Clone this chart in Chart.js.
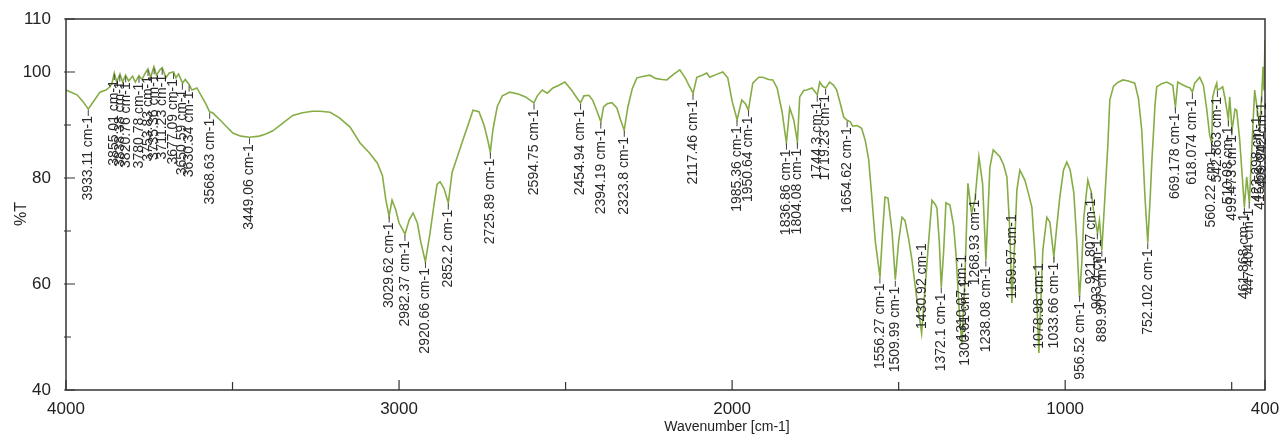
<!DOCTYPE html>
<html>
<head>
<meta charset="utf-8">
<script src="https://cdn.jsdelivr.net/npm/chart.js"></script>
<style>
  html, body { margin: 0; padding: 0; background: #fff; }
  #wrap { width: 1282px; height: 436px; }
</style>
</head>
<body>
<div id="wrap"><canvas id="irChart" width="1282" height="436"></canvas></div>
<script>
// spectrum (wavenumber in cm-1, %T)
const wavenumbers = [
  4000, 3985, 3967, 3950, 3933, 3920, 3898, 3880, 3868, 3862,
  3855, 3848, 3838, 3830, 3821, 3812, 3800, 3792, 3781, 3772,
  3762, 3754, 3746, 3736, 3728, 3718, 3711, 3700, 3690, 3677,
  3670, 3662, 3650, 3642, 3630, 3622, 3607, 3592, 3580, 3569,
  3560, 3538, 3520, 3499, 3475, 3449, 3420, 3400, 3379, 3350,
  3319, 3290, 3260, 3237, 3207, 3180, 3147, 3117, 3090, 3065,
  3050, 3040, 3030, 3021, 3010, 3000, 2982, 2970, 2958, 2945,
  2935, 2921, 2907, 2895, 2886, 2877, 2865, 2852, 2841, 2825,
  2808, 2790, 2778, 2760, 2745, 2735, 2726, 2718, 2705, 2690,
  2667, 2640, 2620, 2605, 2595, 2585, 2570, 2555, 2538, 2520,
  2502, 2480, 2465, 2455, 2445, 2430, 2418, 2405, 2394, 2386,
  2375, 2361, 2346, 2335, 2324, 2313, 2300, 2286, 2265, 2247,
  2230, 2210, 2196, 2175, 2157, 2140, 2130, 2117, 2106, 2090,
  2076, 2067, 2045, 2028, 2013, 2000, 1985, 1971, 1960, 1951,
  1938, 1920, 1908, 1890, 1878, 1865, 1850, 1837, 1827, 1815,
  1804, 1797, 1785, 1776, 1760, 1744, 1737, 1728, 1719, 1707,
  1695, 1686, 1675, 1665, 1655, 1645, 1638, 1625, 1611, 1600,
  1590, 1580, 1570, 1556, 1548, 1541, 1532, 1520, 1510, 1500,
  1490, 1481, 1470, 1460, 1445, 1431, 1421, 1410, 1400, 1390,
  1385, 1378, 1372, 1365, 1358, 1346, 1335, 1328, 1318, 1310,
  1301, 1292, 1281, 1271, 1259, 1248, 1238, 1226, 1216, 1196,
  1185, 1175, 1166, 1160, 1150, 1145, 1136, 1121, 1110, 1100,
  1090, 1079, 1067, 1055, 1046, 1034, 1025, 1016, 1005, 995,
  985, 974, 965, 957, 950, 944, 932, 925, 922, 915,
  911, 903, 897, 890, 882, 872, 866, 855, 845, 827,
  810, 791, 780, 770, 760, 752, 745, 740, 730, 725,
  710, 695, 677, 669, 662, 648, 635, 625, 618, 611,
  596, 585, 575, 566, 560, 557, 550, 545, 543, 536,
  527, 520, 510, 506, 499, 490, 485, 476, 468, 462,
  455, 447, 437, 431, 423, 416, 410, 406, 403, 400
];
const transmittance = [
  96.6, 96.2, 95.7, 94.5, 93.0, 94.2, 96.2, 96.6, 97.2, 97.9,
  99.8, 98.1, 99.6, 98.1, 99.4, 98.3, 99.2, 98.1, 99.3, 98.6,
  99.8, 100.6, 99.0, 101.0, 99.4, 100.4, 100.8, 98.9, 99.8, 100.0,
  98.9, 99.6, 97.9, 98.6, 97.6, 96.6, 97.0, 95.3, 94.0, 92.5,
  92.3, 91.0, 89.8, 88.5, 87.9, 87.7, 87.9, 88.3, 88.9, 90.3,
  91.8, 92.3, 92.6, 92.6, 92.4, 91.4, 89.6, 86.6, 84.8, 82.8,
  80.5, 76.0, 72.8, 75.8, 74.0, 71.5, 69.4, 72.0, 73.4, 71.5,
  68.0, 64.2, 69.6, 75.0, 78.8, 79.3, 78.0, 75.3, 81.0, 84.0,
  87.2, 90.5, 92.8, 92.5, 90.0, 87.5, 84.9, 89.2, 93.5, 95.5,
  96.2, 95.8, 95.3, 94.6, 94.2, 95.5, 96.6, 96.0, 97.0, 97.5,
  98.1, 96.4, 95.0, 94.2, 95.5, 95.6, 94.6, 92.5, 90.6, 93.4,
  94.0, 94.2, 93.2, 91.0, 89.0, 93.4, 96.8, 98.9, 99.2, 99.4,
  98.8, 98.6, 98.5, 99.6, 100.4, 98.8, 97.5, 96.0, 99.0, 99.4,
  99.8, 99.0, 99.6, 100.0, 98.9, 94.5, 91.0, 94.7, 94.0, 92.8,
  97.9, 99.0, 99.0, 98.6, 98.5, 97.0, 92.5, 86.6, 93.2, 91.0,
  86.8, 95.3, 96.5, 96.6, 97.0, 95.7, 98.1, 97.3, 97.0, 98.1,
  97.5, 96.6, 94.0, 91.5, 90.9, 90.6, 89.8, 89.9, 89.4, 87.0,
  83.5, 76.0, 68.0, 61.3, 70.0, 76.4, 76.2, 70.0, 60.8, 68.0,
  72.6, 72.0, 68.5, 64.5, 57.0, 50.7, 58.9, 68.0, 75.8, 75.0,
  74.3, 68.0, 59.4, 66.0, 75.3, 74.9, 71.0, 65.8, 55.0, 48.5,
  61.3, 79.0, 73.4, 75.8, 84.0, 79.0, 64.5, 82.0, 85.3, 84.0,
  82.5, 80.2, 70.0, 56.4, 70.0, 77.7, 81.5, 79.6, 77.0, 74.5,
  65.0, 47.0, 66.4, 72.6, 71.7, 65.1, 71.0, 76.4, 81.5, 83.0,
  81.5, 77.2, 68.0, 57.5, 64.0, 72.6, 79.6, 78.0, 77.5, 74.0,
  72.6, 69.6, 72.0, 66.4, 75.0, 86.0, 94.7, 97.3, 97.9, 98.5,
  98.3, 97.9, 95.0, 89.0, 76.0, 67.8, 76.0, 82.8, 94.0, 97.2,
  97.8, 98.1, 97.5, 93.4, 98.1, 97.6, 97.2, 97.0, 96.2, 97.9,
  99.0, 97.5, 93.0, 88.0, 86.6, 95.3, 97.0, 97.9, 96.6, 96.8,
  97.2, 95.0, 91.0, 95.3, 89.0, 93.0, 92.8, 87.2, 80.0, 74.5,
  80.2, 75.3, 89.0, 96.6, 92.8, 89.6, 95.5, 101.0, 96.5, 106.0
];

// peak annotations printed on the spectrum
const peakLabels = [
  3933.11, 3855.01, 3838.38, 3820.76, 3780.78, 3753.83, 3735.36, 3711.23,
  3677.09, 3650.59, 3630.34, 3568.63, 3449.06, 3029.62, 2982.37, 2920.66,
  2852.2, 2725.89, 2594.75, 2454.94, 2394.19, 2323.8, 2117.46, 1985.36,
  1950.64, 1836.86, 1804.08, 1744.3, 1719.23, 1654.62, 1556.27, 1509.99,
  1430.92, 1372.1, 1310.07, 1300.61, 1268.93, 1238.08, 1159.97, 1078.98,
  1033.66, 956.52, 921.807, 903.4, 889.907, 752.102, 669.178, 618.074,
  560.22, 542.863, 510.08, 499.473, 461.868, 447.404, 423.298, 415.58, 409.942
];

const xTickValues = [4000, 3500, 3000, 2500, 2000, 1500, 1000, 500, 400];
const xTickLabels = ['4000', '', '3000', '', '2000', '', '1000', '', '400'];
const yTickValues = [40, 50, 60, 70, 80, 90, 100, 110];
const yTickLabels = ['40', '', '60', '', '80', '', '100', '110'];

const FONT = "'Liberation Sans', Arial, sans-serif";

function valueAt(wn) {
  for (let i = 0; i < wavenumbers.length - 1; i++) {
    const a = wavenumbers[i], b = wavenumbers[i + 1];
    if (wn <= a && wn >= b) {
      const t = (a - wn) / (a - b);
      return transmittance[i] + t * (transmittance[i + 1] - transmittance[i]);
    }
  }
  return transmittance[transmittance.length - 1];
}

// frame, inward ticks, axis titles and the peak labels
const decor = {
  id: 'decor',
  afterDatasetsDraw(chart) {
    const { ctx, chartArea: a, scales: { x, y } } = chart;
    ctx.save();
    ctx.strokeStyle = '#333';
    ctx.lineWidth = 1.5;
    ctx.strokeRect(a.left, a.top, a.right - a.left, a.bottom - a.top);

    ctx.lineWidth = 1.2;
    ctx.beginPath();
    xTickValues.forEach((v, i) => {
      const px = x.getPixelForValue(v);
      const len = xTickLabels[i] ? 10 : 8;
      ctx.moveTo(px, a.bottom);
      ctx.lineTo(px, a.bottom - len);
    });
    yTickValues.forEach((v, i) => {
      const py = y.getPixelForValue(v);
      const len = yTickLabels[i] ? 9 : 5;
      ctx.moveTo(a.left - 2, py);
      ctx.lineTo(a.left + len, py);
    });
    ctx.stroke();

    // peak labels, rotated, hanging below the dip (or above when no room)
    ctx.font = '14px ' + FONT;
    ctx.fillStyle = '#2a2a2a';
    ctx.strokeStyle = '#444';
    ctx.lineWidth = 1;
    ctx.textBaseline = 'middle';
    peakLabels.forEach(wn => {
      const px = x.getPixelForValue(wn);
      const py = y.getPixelForValue(valueAt(wn));
      const txt = wn + ' cm-1';
      const w = ctx.measureText(txt).width;
      ctx.save();
      ctx.translate(px, py);
      ctx.rotate(-Math.PI / 2);
      ctx.beginPath();
      if (py + 7 + w < a.bottom - 4) {
        ctx.moveTo(-1, 0);
        ctx.lineTo(-7, 0);
        ctx.stroke();
        ctx.textAlign = 'right';
        ctx.fillText(txt, -7, 0);
      } else {
        ctx.textAlign = 'left';
        ctx.fillText(txt, 4, 0);
      }
      ctx.restore();
    });

    ctx.fillStyle = '#222';
    ctx.font = '16px ' + FONT;
    ctx.save();
    ctx.translate(22, 214);
    ctx.rotate(-Math.PI / 2);
    ctx.textAlign = 'center';
    ctx.fillText('%T', 0, 0);
    ctx.restore();
    ctx.font = '14px ' + FONT;
    ctx.textAlign = 'center';
    ctx.fillText('Wavenumber [cm-1]', 727, 427);
    ctx.restore();
  }
};

const ctx = document.getElementById('irChart').getContext('2d');
new Chart(ctx, {
  type: 'line',
  data: {
    datasets: [{
      label: '%T',
      data: wavenumbers.map((w, i) => ({ x: w, y: transmittance[i] })),
      borderColor: '#86ad45',
      borderWidth: 1.6,
      pointRadius: 0,
      tension: 0,
      fill: false
    }]
  },
  options: {
    responsive: false,
    animation: false,
    devicePixelRatio: 1,
    layout: { padding: { top: 19, right: 17, left: 0, bottom: 0 } },
    plugins: { legend: { display: false }, tooltip: { enabled: false } },
    scales: {
      x: {
        type: 'linear',
        reverse: true,
        min: 400,
        max: 4000,
        afterBuildTicks: s => { s.ticks = xTickValues.map(v => ({ value: v })); },
        afterFit: s => { s.height = 46; },
        grid: { display: false },
        border: { display: false },
        ticks: {
          autoSkip: false,
          maxRotation: 0,
          padding: 1,
          color: '#222',
          font: { family: FONT, size: 17 },
          callback: v => xTickLabels[xTickValues.indexOf(v)]
        }
      },
      y: {
        min: 40,
        max: 110,
        afterBuildTicks: s => { s.ticks = yTickValues.map(v => ({ value: v })); },
        afterFit: s => { s.width = 66; },
        grid: { display: false },
        border: { display: false },
        ticks: {
          autoSkip: false,
          padding: 7,
          color: '#222',
          font: { family: FONT, size: 17 },
          callback: v => yTickLabels[yTickValues.indexOf(v)]
        }
      }
    }
  },
  plugins: [decor]
});
</script>
</body>
</html>
